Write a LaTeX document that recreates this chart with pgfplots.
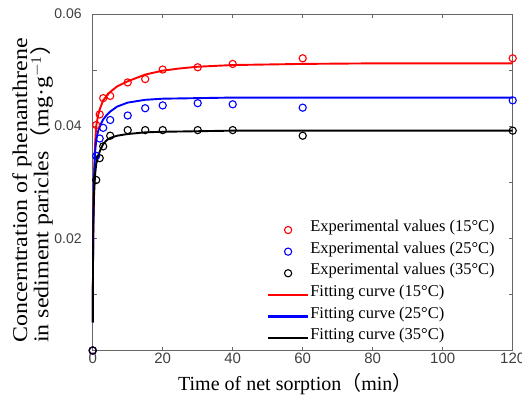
\documentclass[border=0pt]{standalone}
\usepackage{fontspec}
\setmainfont{Liberation Serif}
\newfontfamily\arial{Liberation Sans}
\newfontfamily\cjk{Noto Sans CJK SC}
\usepackage{pgfplots}
\pgfplotsset{compat=1.18}
\begin{document}
\begin{tikzpicture}
\begin{axis}[
  name=ax,
  scale only axis, width=420pt, height=336.5pt,
  xmin=0, xmax=120, ymin=0, ymax=0.06,
  clip=false,
  scaled y ticks=false,
  axis line style={black!60, line width=0.7pt},
  tick style={black!60, line width=0.6pt},
  major tick length=4pt, minor tick length=4pt,
  xtick={0,20,...,120},
  ytick={0.02,0.04,0.06}, yticklabels={0.02,0.04,0.06},
  minor ytick={0.01,0.03,0.05},
  xticklabel style={font=\arial\fontsize{15}{15}\selectfont, text=black!75, yshift=1pt},
  yticklabel style={font=\arial\fontsize{14}{14}\selectfont, text=black!75, xshift=-7.5pt},
  /pgf/number format/assume math mode=true,
  xlabel={Time of net sorption{\cjk （}min{\cjk ）}},
  xlabel style={at={(axis description cs:0.203,0)}, anchor=base west, yshift=-39.5pt, inner sep=0pt, font=\fontsize{20}{20}\selectfont},
  ylabel={\scalebox{1.14}[1]{\begin{tabular}{@{}l@{}}Concerntration of phenanthrene\\[-3pt] in sediment paricles{\cjk （}mg·g$^{-1}${\cjk ）}\end{tabular}}},
  ylabel style={at={(axis description cs:-0.0898,0.0223)}, anchor=south west, inner sep=0pt, font=\fontsize{21}{21}\selectfont},
  legend style={at={(axis description cs:0.4143,0.1975)}, anchor=west, draw=none, fill=none,
    font=\fontsize{16.5}{18}\selectfont, inner sep=0pt, row sep=0pt, column sep=1pt,
    nodes={inner sep=0pt, text height=12.5pt, text depth=9.1pt}},
  legend cell align=left,
  legend image code/.code={\draw[mark repeat=2,mark phase=2,#1] plot coordinates {(0pt,0pt) (20pt,0pt) (40pt,0pt)};},
]
\addplot[only marks, mark=o, red, mark size=3.6pt, line width=1.1pt] coordinates {
(0,0) (1,0.0402) (2,0.0421) (3,0.0450) (5,0.0454) (10,0.0478) (15,0.0484) (20,0.0501) (30,0.0505) (40,0.0511) (60,0.0521) (120,0.0521)};
\addlegendentry{Experimental values (15°C)}
\addplot[only marks, mark=o, blue, mark size=3.6pt, line width=1.1pt] coordinates {
(0,0) (1,0.0347) (2,0.0378) (3,0.0397) (5,0.0411) (10,0.0419) (15,0.0432) (20,0.0437) (30,0.0441) (40,0.0439) (60,0.0433) (120,0.0446)};
\addlegendentry{Experimental values (25°C)}
\addplot[only marks, mark=o, black, mark size=3.6pt, line width=1.1pt] coordinates {
(0,0) (1,0.0304) (2,0.0343) (3,0.0364) (5,0.0383) (10,0.0393) (15,0.0393) (20,0.0393) (30,0.0393) (40,0.0393) (60,0.0383) (120,0.0392)};
\addlegendentry{Experimental values (35°C)}
\addplot[red, line width=1.9pt, no marks, legend image post style={line width=2.4pt}] coordinates {
(0.03,0.005) (0.1,0.018) (0.2,0.026) (0.4,0.031) (0.7,0.037) (1,0.0400) (1.5,0.0418) (2,0.0430) (3,0.0446) (4,0.0454) (5,0.0461) (7,0.0471) (10,0.0480) (15,0.0492) (20,0.0499) (25,0.0503) (30,0.0506) (40,0.0509) (50,0.0510) (60,0.0511) (80,0.0512) (120,0.0512)};
\addlegendentry{Fitting curve (15°C)}
\addplot[blue, line width=1.9pt, no marks, legend image post style={line width=2.4pt}] coordinates {
(0.03,0.005) (0.1,0.017) (0.2,0.025) (0.4,0.031) (0.7,0.0355) (1,0.0375) (1.5,0.0390) (2,0.0400) (3,0.0412) (4,0.0420) (5,0.0426) (7,0.0435) (10,0.0442) (15,0.0447) (20,0.0449) (30,0.0450) (40,0.0451) (60,0.0451) (120,0.0451)};
\addlegendentry{Fitting curve (25°C)}
\addplot[black, line width=1.9pt, no marks, legend image post style={line width=2.4pt}] coordinates {
(0.03,0.005) (0.1,0.016) (0.2,0.023) (0.4,0.028) (0.7,0.0315) (1,0.0332) (1.5,0.0345) (2,0.0355) (3,0.0368) (4,0.0375) (5,0.0379) (7,0.0383) (10,0.0386) (15,0.0389) (20,0.0390) (30,0.0391) (40,0.0392) (120,0.0392)};
\addlegendentry{Fitting curve (35°C)}
\end{axis}
\pgfresetboundingbox
\path[use as bounding box] (ax.south west) ++(-92.7pt,-48.5pt) rectangle ++(522pt,399pt);
\end{tikzpicture}
\end{document}
